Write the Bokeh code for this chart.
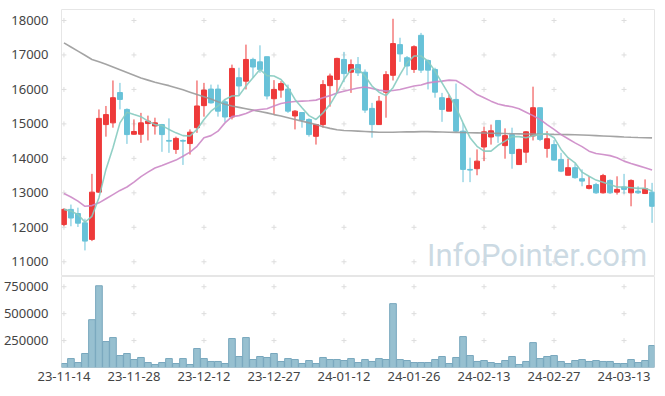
from bokeh.plotting import figure
from bokeh.models import Range1d, FixedTicker, Label
from bokeh.layouts import column
from bokeh.embed import file_html
from bokeh.resources import INLINE

dates = ["23-11-14", "23-11-15", "23-11-16", "23-11-17", "23-11-20", "23-11-21", "23-11-22", "23-11-23", "23-11-24", "23-11-27",
         "23-11-28", "23-11-29", "23-11-30", "23-12-01", "23-12-04", "23-12-05", "23-12-06", "23-12-07", "23-12-08", "23-12-11",
         "23-12-12", "23-12-13", "23-12-14", "23-12-15", "23-12-18", "23-12-19", "23-12-20", "23-12-21", "23-12-22", "23-12-26",
         "23-12-27", "23-12-28", "24-01-02", "24-01-03", "24-01-04", "24-01-05", "24-01-08", "24-01-09", "24-01-10", "24-01-11",
         "24-01-12", "24-01-15", "24-01-16", "24-01-17", "24-01-18", "24-01-19", "24-01-22", "24-01-23", "24-01-24", "24-01-25",
         "24-01-26", "24-01-29", "24-01-30", "24-01-31", "24-02-01", "24-02-02", "24-02-05", "24-02-06", "24-02-07", "24-02-08",
         "24-02-13", "24-02-14", "24-02-15", "24-02-16", "24-02-19", "24-02-20", "24-02-21", "24-02-22", "24-02-23", "24-02-26",
         "24-02-27", "24-02-28", "24-02-29", "24-03-04", "24-03-05", "24-03-06", "24-03-07", "24-03-08", "24-03-11", "24-03-12",
         "24-03-13", "24-03-14", "24-03-15", "24-03-18", "24-03-19"]

opens = [12080, 12520, 12400, 12130, 11650, 13020, 14980, 15030, 15910, 15420,
         14700, 14700, 15010, 14940, 14980, 14520, 14260, 14520, 14430, 14890,
         15530, 16010, 16010, 15640, 15200, 16340, 16240, 16870, 16800, 16950,
         15730, 15980, 16010, 15230, 15330, 15130, 14640, 14980, 16110, 16290,
         16870, 16500, 16720, 16500, 15450, 14980, 15920, 16410, 17300, 16920,
         16580, 17570, 16840, 16580, 15760, 15370, 15710, 14790, 13680, 13700,
         14330, 14620, 15100, 14370, 14690, 13820, 14180, 14650, 15470, 14290,
         14400, 13970, 13510, 13730, 13410, 13130, 13240, 13000, 13360, 13020,
         13170, 13000, 13050, 12980, 13020]
closes = [12520, 12270, 12120, 11600, 13020, 15160, 15270, 15760, 15710, 14690,
          14780, 15030, 15080, 15030, 14690, 14500, 14580, 14500, 14760, 15520,
          15980, 15610, 15370, 15200, 16610, 16100, 16870, 16650, 16580, 15810,
          16000, 16170, 15370, 15370, 15110, 14690, 14980, 16140, 16390, 16900,
          16460, 16720, 16480, 15400, 14980, 15660, 16430, 17330, 17030, 16680,
          17240, 16560, 16560, 15920, 15420, 15740, 14790, 13680, 13660, 13920,
          14770, 14800, 14650, 14660, 14140, 14260, 14770, 15470, 14550, 14570,
          13950, 13630, 13730, 13440, 13340, 13210, 13000, 13500, 13000, 13100,
          13100, 13360, 13000, 13120, 12610]
highs = [12550, 12660, 12570, 12250, 13550, 15420, 15520, 16260, 16190, 15450,
         15130, 15320, 15240, 15180, 15000, 15160, 14630, 14550, 14840, 16260,
         16190, 16140, 16140, 15710, 16720, 16630, 17300, 16920, 17280, 16950,
         16270, 16240, 16140, 15400, 15330, 15160, 15000, 16270, 16460, 16920,
         17090, 16870, 16940, 16580, 15610, 15810, 16530, 18050, 17500, 16970,
         17280, 17640, 16870, 16630, 15900, 15850, 16170, 15030, 14020, 14260,
         14920, 14980, 15100, 14870, 14890, 14280, 14790, 16080, 15470, 14790,
         14530, 14160, 13990, 13850, 13680, 13480, 13290, 13550, 13390, 13480,
         13550, 13390, 13190, 13390, 13290]
lows = [12030, 12030, 12010, 11330, 11600, 13000, 14630, 14890, 15420, 14420,
        14690, 14450, 14520, 14690, 14190, 14160, 14130, 13810, 14110, 14740,
        15210, 15590, 15210, 15050, 15130, 15820, 16000, 16340, 16480, 15710,
        15270, 15760, 15320, 14840, 14890, 14630, 14400, 14890, 15500, 15900,
        16210, 15900, 16390, 15320, 14600, 14980, 15180, 16260, 16800, 16410,
        16480, 16480, 16000, 15760, 15060, 15370, 14760, 13310, 13310, 13510,
        13920, 14400, 14450, 13990, 13700, 13820, 13870, 14520, 14500, 14020,
        13950, 13600, 13510, 13410, 13190, 13100, 12970, 12980, 12970, 12950,
        12970, 12610, 12970, 12970, 12130]
volumes = [37000, 83000, 46000, 130000, 444000, 759000, 241000, 278000, 111000, 130000,
           74000, 93000, 46000, 28000, 46000, 83000, 37000, 83000, 28000, 176000,
           83000, 56000, 56000, 37000, 269000, 102000, 278000, 74000, 102000, 93000,
           130000, 56000, 83000, 74000, 37000, 65000, 37000, 93000, 74000, 74000,
           65000, 83000, 46000, 74000, 56000, 83000, 74000, 593000, 74000, 65000,
           46000, 46000, 46000, 74000, 102000, 37000, 93000, 287000, 111000, 56000,
           65000, 46000, 37000, 65000, 102000, 28000, 56000, 231000, 83000, 102000,
           111000, 56000, 37000, 65000, 74000, 56000, 65000, 56000, 56000, 37000,
           37000, 74000, 46000, 65000, 204000]
ma5 = [12520, 12470, 12370, 12150, 12320, 12860, 13680, 14310, 15030, 15340,
       15270, 15210, 15080, 14980, 14950, 14840, 14740, 14660, 14650, 14840,
       15130, 15370, 15520, 15710, 15810, 15820, 16100, 16340, 16580, 16400,
       16390, 16290, 16050, 15710, 15470, 15240, 15130, 15320, 15560, 15900,
       16290, 16580, 16600, 16390, 16100, 15920, 15820, 16050, 16430, 16770,
       16970, 16970, 16820, 16530, 16190, 15850, 15470, 15030, 14600, 14350,
       14210, 14210, 14380, 14500, 14630, 14630, 14600, 14660, 14690, 14720,
       14600, 14260, 14020, 13870, 13600, 13480, 13370, 13310, 13240, 13170,
       13170, 13150, 13130, 13130, 13050]
ma20 = [12980, 12880, 12760, 12610, 12630, 12710, 12830, 12950, 13070, 13170,
        13310, 13470, 13600, 13720, 13790, 13870, 13950, 14060, 14180, 14350,
        14600, 14660, 14790, 15030, 15210, 15240, 15300, 15390, 15420, 15440,
        15520, 15590, 15630, 15650, 15660, 15670, 15690, 15760, 15820, 15900,
        15950, 16000, 16040, 16070, 16030, 15980, 15950, 15970, 16000, 16050,
        16100, 16130, 16190, 16220, 16240, 16270, 16260, 16140, 16000, 15850,
        15760, 15660, 15580, 15530, 15500, 15440, 15340, 15240, 15130, 14980,
        14840, 14690, 14570, 14450, 14340, 14210, 14140, 14110, 14080, 14020,
        13920, 13850, 13790, 13730, 13660]
ma60 = [17350, 17230, 17110, 16990, 16870, 16800, 16730, 16650, 16570, 16490,
        16410, 16330, 16270, 16210, 16160, 16110, 16050, 15990, 15920, 15850,
        15790, 15720, 15640, 15570, 15520, 15480, 15440, 15400, 15360, 15320,
        15270, 15230, 15180, 15130, 15080, 15030, 14980, 14920, 14870, 14830,
        14810, 14800, 14790, 14780, 14770, 14760, 14760, 14760, 14765, 14770,
        14770, 14775, 14775, 14770, 14765, 14760, 14755, 14750, 14745, 14740,
        14735, 14730, 14725, 14720, 14715, 14712, 14708, 14705, 14700, 14698,
        14695, 14693, 14690, 14685, 14680, 14670, 14660, 14650, 14640, 14630,
        14620, 14612, 14605, 14600, 14595]
price_ticks = [11000, 12000, 13000, 14000, 15000, 16000, 17000, 18000]
volume_ticks = [250000, 500000, 750000]
label_index = [0, 10, 20, 30, 40, 50, 60, 70, 80]

UP = "#ee3a3a"
DOWN = "#68c2d8"
FONT = "Noto Sans"
TXT = "#444444"

n = len(dates)
xs = list(range(n))
cols = [UP if c >= o else DOWN for o, c in zip(opens, closes)]
tops = [max(o, c) for o, c in zip(opens, closes)]
bots = [min(o, c) for o, c in zip(opens, closes)]
bots = [b if t - b > 15 else t - 15 for t, b in zip(tops, bots)]

xr = Range1d(-0.35, 84.35)

p1 = figure(width=664, height=276, x_range=xr, y_range=Range1d(10573, 18319),
            output_backend="svg", toolbar_location=None, x_axis_location=None,
            min_border_left=61, min_border_right=10, min_border_top=9, min_border_bottom=0)
p1.grid.visible = False
p1.outline_line_color = "#e6e6e6"
p1.background_fill_color = "white"

# grid crosses
cx = [i for i in label_index for _ in price_ticks]
cy = [t for _ in label_index for t in price_ticks]
p1.scatter(cx, cy, marker="cross", size=5, line_color="#dddddd", line_width=1)

p1.segment(x0=xs, y0=lows, x1=xs, y1=highs, line_color=cols, line_width=1)
p1.vbar(x=xs, width=0.7, top=tops, bottom=bots, fill_color=cols, line_color=cols, line_width=1)

p1.line(xs, ma60, line_color="#9a9a9a", line_width=1.6, line_alpha=0.9)
p1.line(xs, ma20, line_color="#cc88c6", line_width=1.6, line_alpha=0.9)
p1.line(xs, ma5, line_color="#86cbc0", line_width=1.6, line_alpha=0.9)

ax = p1.yaxis[0]
ax.ticker = FixedTicker(ticks=price_ticks)
ax.major_label_overrides = {t: str(t) for t in price_ticks}
ax.axis_line_color = None
ax.major_tick_line_color = None
ax.minor_tick_line_color = None
ax.major_label_standoff = 7
ax.major_label_text_font = FONT
ax.major_label_text_font_size = "13px"
ax.major_label_text_color = TXT

wm = Label(x=83.3, y=11180, text="InfoPointer.com", text_align="right", text_baseline="alphabetic",
           text_font="Roboto", text_font_size="31px", text_color="#c9d8e2", text_alpha=0.95)
p1.add_layout(wm)

p2 = figure(width=664, height=115, x_range=xr, y_range=Range1d(0, 845000),
            output_backend="svg", toolbar_location=None,
            min_border_left=61, min_border_right=10, min_border_top=0, min_border_bottom=24)
p2.grid.visible = False
p2.outline_line_color = "#e6e6e6"

vx = [i for i in label_index for _ in volume_ticks]
vy = [t for _ in label_index for t in volume_ticks]
p2.scatter(vx, vy, marker="cross", size=5, line_color="#dddddd", line_width=1)
p2.vbar(x=xs, width=0.95, top=volumes, bottom=0, fill_color="#97c0d0", line_color="#78a7bd", line_width=1)

ay = p2.yaxis[0]
ay.ticker = FixedTicker(ticks=volume_ticks)
ay.major_label_overrides = {t: str(t) for t in volume_ticks}
ay.axis_line_color = None
ay.major_tick_line_color = None
ay.minor_tick_line_color = None
ay.major_label_standoff = 7
ay.major_label_text_font = FONT
ay.major_label_text_font_size = "13px"
ay.major_label_text_color = TXT

bx = p2.xaxis[0]
bx.ticker = FixedTicker(ticks=label_index)
bx.major_label_overrides = {i: dates[i] for i in label_index}
bx.axis_line_color = None
bx.major_tick_line_color = None
bx.minor_tick_line_color = None
bx.major_label_standoff = -2
bx.major_label_text_font = FONT
bx.major_label_text_font_size = "13px"
bx.major_label_text_color = TXT

layout = column(p1, p2, spacing=0)
open("out.html", "w").write(file_html(layout, INLINE))
